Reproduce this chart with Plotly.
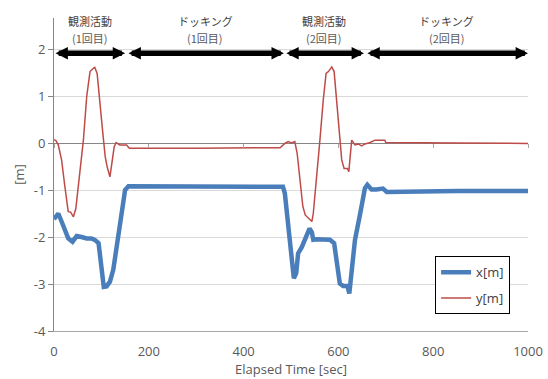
import plotly.graph_objects as go

# x[m] series (time in sec, value in m)
x_time = [0, 2, 9, 16, 23, 30, 39, 48, 58, 69, 79, 86, 94, 97, 100, 105, 111, 118, 125, 132, 143, 150, 157,
          300, 483, 487, 494, 501, 506, 511, 515, 523, 530, 539, 544, 547, 554, 568, 582, 591, 596, 603, 610,
          619, 623, 628, 635, 646, 656, 661, 670, 680, 694, 702, 747, 850, 1000]
x_vals = [-1.62, -1.6, -1.5, -1.67, -1.85, -2.03, -2.1, -1.98, -2.0, -2.03, -2.03, -2.06, -2.13, -2.42, -2.77,
          -3.06, -3.05, -2.95, -2.7, -2.2, -1.5, -1.0, -0.92,
          -0.93, -0.93, -1.07, -1.71, -2.42, -2.88, -2.77, -2.35, -2.21, -2.03, -1.82, -1.9, -2.06, -2.05, -2.05,
          -2.06, -2.13, -2.49, -2.99, -3.04, -3.04, -3.2, -2.77, -2.06, -1.5, -0.96, -0.89, -0.99, -0.99, -0.97,
          -1.04, -1.03, -1.02, -1.02]

# y[m] series
y_time = [0, 4, 9, 16, 23, 30, 35, 41, 46, 55, 62, 69, 76, 83, 86, 91, 97, 103, 108, 112, 118, 122, 127, 131,
          139, 153, 159, 300, 477, 487, 494, 501, 508, 513, 519, 525, 530, 537, 544, 547, 554, 561, 568, 574,
          579, 586, 591, 596, 602, 607, 612, 619, 622, 624, 628, 635, 642, 649, 656, 667, 677, 698, 700, 850, 1000]
y_vals = [0.07, 0.05, -0.04, -0.36, -0.93, -1.46, -1.47, -1.57, -1.4, -0.64, 0.06, 0.99, 1.52, 1.59, 1.61,
          1.48, 0.91, 0.21, -0.29, -0.5, -0.72, -0.43, -0.08, 0.01,
          -0.04, -0.04, -0.11, -0.11, -0.1, -0.01, 0.03, 0.0, 0.03, -0.22, -0.79, -1.35, -1.53, -1.6, -1.67,
          -1.5, -0.79, 0.06, 0.91, 1.48, 1.52, 1.62, 1.52, 0.91, 0.21, -0.36, -0.54, -0.54, -0.61, -0.36, 0.06,
          -0.04, -0.02, -0.06, -0.02, 0.01, 0.06, 0.06, 0.01, 0.0, -0.01]

# Phase bars
phase_start = [0, 154, 487, 658]
phase_end = [150, 485, 654, 1000]
phase_name = ["観測活動", "ドッキング", "観測活動", "ドッキング"]
phase_sub = ["(1回目)", "(1回目)", "(2回目)", "(2回目)"]
phase_level = 1.91

x_ticks = [0, 200, 400, 600, 800, 1000]
y_ticks = [-4, -3, -2, -1, 0, 1, 2]

FONT = "Noto Sans CJK JP, Noto Sans, sans-serif"
NUMFONT = "Open Sans, Noto Sans, sans-serif"

fig = go.Figure()
fig.add_trace(go.Scatter(x=x_time, y=x_vals, mode="lines", name="x[m]", legendgroup="a",
                         line=dict(color="#4a7ebb", width=4.5)))
fig.add_trace(go.Scatter(x=y_time, y=y_vals, mode="lines", name="y[m]", legendgroup="b",
                         line=dict(color="#be4b48", width=1.5)))
# dummy trace for the zero-crossing tick axis
fig.add_trace(go.Scatter(x=[None], y=[None], xaxis="x2", showlegend=False, hoverinfo="skip"))

y_lo, y_hi = -4, 2.66

annotations = []
for s, e, n, sub in zip(phase_start, phase_end, phase_name, phase_sub):
    annotations.append(dict(x=e, y=phase_level, ax=s, ay=phase_level, xref="x", yref="y",
                            axref="x", ayref="y", text="", showarrow=True,
                            arrowhead=2, startarrowhead=2, arrowside="end+start",
                            arrowsize=0.45, startarrowsize=0.45, arrowwidth=5.5,
                            arrowcolor="#000000", standoff=0, startstandoff=0))
    mid = (s + e) / 2
    annotations.append(dict(x=mid, y=1.0, xref="x", yref="paper", yshift=-13, text=n, showarrow=False,
                            yanchor="bottom", font=dict(family=FONT, size=11, color="#404040")))
    annotations.append(dict(x=mid, y=1.0, xref="x", yref="paper", yshift=-30, text=sub, showarrow=False,
                            yanchor="bottom", font=dict(family=FONT, size=11, color="#595959")))

fig.update_layout(
    width=548, height=379,
    margin=dict(l=54, r=20, t=18, b=48),
    paper_bgcolor="white", plot_bgcolor="white",
    font=dict(family=NUMFONT, size=13, color="#595959"),
    showlegend=True,
    legend=dict(x=0.804, y=0.239, xanchor="left", yanchor="top",
                bordercolor="#000000", borderwidth=1, bgcolor="white",
                font=dict(family=NUMFONT, size=13, color="#404040"),
                traceorder="grouped", tracegroupgap=6, itemwidth=30,
                entrywidth=76, entrywidthmode="pixels"),
    xaxis=dict(range=[0, 1000], tickvals=x_ticks, ticktext=[str(v) for v in x_ticks],
               showgrid=False, zeroline=False, showline=True, linecolor="#a6a6a6", linewidth=1,
               ticks="", ticklabelstandoff=8, automargin=False,
               title=dict(text="Elapsed Time [sec]", standoff=3, font=dict(size=13, color="#595959"))),
    xaxis2=dict(range=[0, 1000], overlaying="x", anchor="free", position=(0 - y_lo) / (y_hi - y_lo),
                tickvals=x_ticks, showticklabels=False, ticks="outside", ticklen=4, tickcolor="#a6a6a6",
                showgrid=False, zeroline=False, showline=False, automargin=False),
    yaxis=dict(range=[y_lo, y_hi], tickvals=y_ticks, ticktext=[str(v) for v in y_ticks],
               showgrid=True, gridcolor="#d9d9d9", gridwidth=1,
               zeroline=True, zerolinecolor="#868686", zerolinewidth=1,
               showline=True, linecolor="#868686", linewidth=1,
               ticks="outside", ticklen=5, tickcolor="#868686", automargin=False,
               title=dict(text="[m]", standoff=6, font=dict(size=13, color="#595959"))),
    annotations=annotations,
)

fig.write_html("out.html", config={"displayModeBar": False},
               post_script="document.body.style.margin='0';document.body.style.overflow='hidden';")
